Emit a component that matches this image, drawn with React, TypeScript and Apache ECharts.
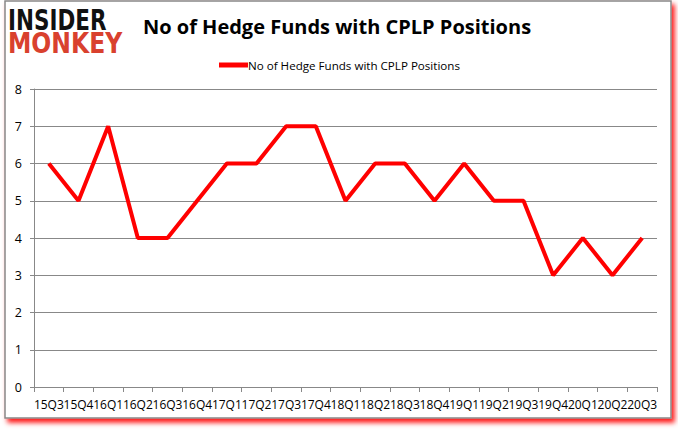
import React, { useEffect, useRef } from "react";
import * as echarts from "echarts";

const categories = [
  "15Q3", "15Q4", "16Q1", "16Q2", "16Q3", "16Q4", "17Q1", "17Q2", "17Q3", "17Q4",
  "18Q1", "18Q2", "18Q3", "18Q4", "19Q1", "19Q2", "19Q3", "19Q4", "20Q1", "20Q2", "20Q3",
];
const funds = [6, 5, 7, 4, 4, 5, 6, 6, 7, 7, 5, 6, 6, 5, 6, 5, 5, 3, 4, 3, 4];
const seriesName = "No of Hedge Funds with CPLP Positions";
const titleText = "No of Hedge Funds with CPLP Positions";

export default function App() {
  const ref = useRef<HTMLDivElement>(null);
  useEffect(() => {
    if (!ref.current) return;
    const chart = echarts.init(ref.current, null, { renderer: "svg" });
    const font = "'Open Sans', 'Noto Sans', sans-serif";
    chart.setOption({
      animation: false,
      backgroundColor: "#ffffff",
      title: {
        text: titleText,
        left: 332,
        top: 11,
        textAlign: "center",
        textStyle: { fontFamily: font, fontSize: 20, fontWeight: "bold", color: "#000" },
      },
      legend: {
        data: [seriesName],
        left: 214,
        top: 54,
        itemWidth: 29,
        itemHeight: 5,
        itemGap: 2,
        icon: "rect",
        textStyle: { fontFamily: font, fontSize: 11.6, color: "#000", padding: [0, 0, 0, -5] },
      },
      grid: { left: 34, right: 21, top: 89, bottom: 44, containLabel: false },
      xAxis: {
        type: "category",
        data: categories,
        boundaryGap: true,
        axisLine: { lineStyle: { color: "#888", width: 1 } },
        axisTick: { show: true, alignWithLabel: false, length: 5, lineStyle: { color: "#888" } },
        axisLabel: { interval: 0, fontFamily: font, fontSize: 12, color: "#000", margin: 11 },
      },
      yAxis: {
        type: "value",
        min: 0,
        max: 8,
        interval: 1,
        axisLine: { show: true, lineStyle: { color: "#888", width: 1 } },
        axisTick: { show: true, inside: false, length: 4, lineStyle: { color: "#888" } },
        splitLine: { show: true, lineStyle: { color: "#888", width: 1 } },
        axisLabel: { fontFamily: font, fontSize: 12.5, color: "#000", margin: 12 },
      },
      series: [
        {
          name: seriesName,
          type: "line",
          data: funds,
          symbol: "none",
          lineStyle: { color: "#ff0000", width: 4 },
          itemStyle: { color: "#ff0000" },
        },
      ],
      graphic: [
        {
          type: "rect",
          z: -10,
          silent: true,
          shape: { x: 5, y: 1, width: 666, height: 417 },
          style: {
            fill: "#fff",
            stroke: "#888",
            lineWidth: 1.5,
            shadowBlur: 5,
            shadowOffsetX: 3,
            shadowOffsetY: 4,
            shadowColor: "rgba(255,0,0,0.9)",
          },
        },
        {
          type: "text",
          x: 8,
          y: 6,
          scaleY: 1.32,
          style: {
            text: "INSIDER",
            fontFamily: "'DejaVu Sans', sans-serif",
            fontWeight: "bold",
            fontSize: 21.5,
            fill: "#111",
          },
        },
        {
          type: "text",
          x: 8,
          y: 29,
          scaleY: 1.18,
          style: {
            text: "MONKEY",
            fontFamily: "'DejaVu Sans', sans-serif",
            fontWeight: "bold",
            fontSize: 23.5,
            fill: "#d9412e",
          },
        },
      ],
    });
    return () => chart.dispose();
  }, []);
  return (
    <div
      ref={ref}
      style={{ position: "fixed", left: 0, top: 0, width: 678, height: 431 }}
    />
  );
}
